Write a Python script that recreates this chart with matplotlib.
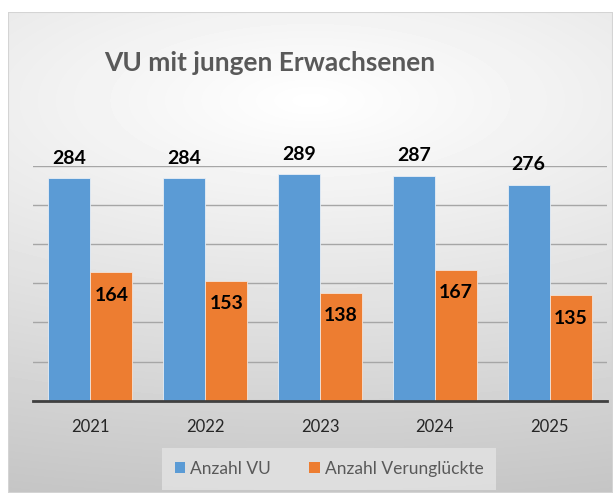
import numpy as np
import matplotlib
matplotlib.use("Agg")
import matplotlib.pyplot as plt
from matplotlib.patches import Patch, Rectangle

plt.rcParams['font.family'] = ['Lato', 'DejaVu Sans']

years = ['2021', '2022', '2023', '2024', '2025']
anzahl_vu = [284, 284, 289, 287, 276]
verunglueckte = [164, 153, 138, 167, 135]

blue = '#5B9BD5'
orange = '#ED7D31'

W, H = 613, 493
fig = plt.figure(figsize=(W / 100, H / 100), dpi=100)
fig.patch.set_facecolor('white')

# grey gradient background of the chart frame
bg = fig.add_axes([8 / W, 0, (W - 8) / W, (H - 12) / H], zorder=0)
yy, xx = np.mgrid[12:H, 8:W]
dx = xx - 310.0
dy = yy - 100.0
drop = np.sqrt(3.0e-3 * dx ** 2 + 0.0205 * dy ** 2)
grey = np.clip(255 - drop, 185, 255) / 255.0
bg.imshow(grey, cmap='gray', vmin=0, vmax=1, aspect='auto',
          extent=[0, 1, 0, 1], interpolation='bilinear')
bg.add_patch(Rectangle((0, 0), 1, 1, transform=bg.transAxes, fill=False,
                       edgecolor='#d4d4d4', lw=1.5))
bg.set_axis_off()

ax = fig.add_axes([33 / W, 92.3 / H, 574 / W, 235 / H], zorder=1)
ax.patch.set_alpha(0)

x = np.arange(len(years))
bw = 0.366
ax.bar(x - bw / 2, anzahl_vu, bw, color=blue, edgecolor='#e8eef5',
       linewidth=0.6, zorder=3)
ax.bar(x + bw / 2, verunglueckte, bw, color=orange, edgecolor='#f3e3d8',
       linewidth=0.6, zorder=3)

for xi, v in zip(x, anzahl_vu):
    ax.annotate(str(v), (xi - bw / 2, v), xytext=(0, 14.4),
                textcoords='offset points', ha='center', va='center',
                fontsize=14, fontweight='bold', color='black',
                annotation_clip=False)
for xi, v in zip(x, verunglueckte):
    ax.annotate(str(v), (xi + bw / 2, v), xytext=(0, -16.6),
                textcoords='offset points', ha='center', va='center',
                fontsize=14, fontweight='bold', color='black',
                annotation_clip=False)

ax.set_xlim(-0.5, 4.5)
ax.set_ylim(0, 300)
ax.set_yticks(np.arange(0, 301, 50))
ax.yaxis.grid(True, color='#a6a6a6', linewidth=1.0, zorder=0)
ax.set_axisbelow(True)
ax.tick_params(axis='y', left=False, labelleft=False)
ax.set_xticks(x)
ax.set_xticklabels(years, fontsize=12, color='#262626')
ax.tick_params(axis='x', length=0, pad=13)
for s in ['top', 'right', 'left']:
    ax.spines[s].set_visible(False)
ax.spines['bottom'].set_color('#404040')
ax.spines['bottom'].set_linewidth(2)
ax.spines['bottom'].set_zorder(4)

fig.text(270 / W, 1 - 63 / H, 'VU mit jungen Erwachsenen', ha='center',
         va='center', fontsize=19, fontweight='bold', color='#595959')

handles = [Patch(facecolor=blue, label='Anzahl VU'),
           Patch(facecolor=orange, label='Anzahl Verunglückte')]
leg = fig.legend(handles=handles, loc='center', ncol=2,
                 bbox_to_anchor=(329 / W, 1 - 469 / H), frameon=True,
                 fancybox=False, facecolor='#e2e2e2', edgecolor='none',
                 fontsize=12.5, handlelength=0.6, handleheight=0.6,
                 handletextpad=0.3, columnspacing=2.2, borderpad=0.25,
                 borderaxespad=0)
leg.get_frame().set_alpha(0.85)
leg.get_frame().set_boxstyle('square', pad=0.5)
for t in leg.get_texts():
    t.set_color('#595959')

fig.savefig('out.png', dpi=100)
